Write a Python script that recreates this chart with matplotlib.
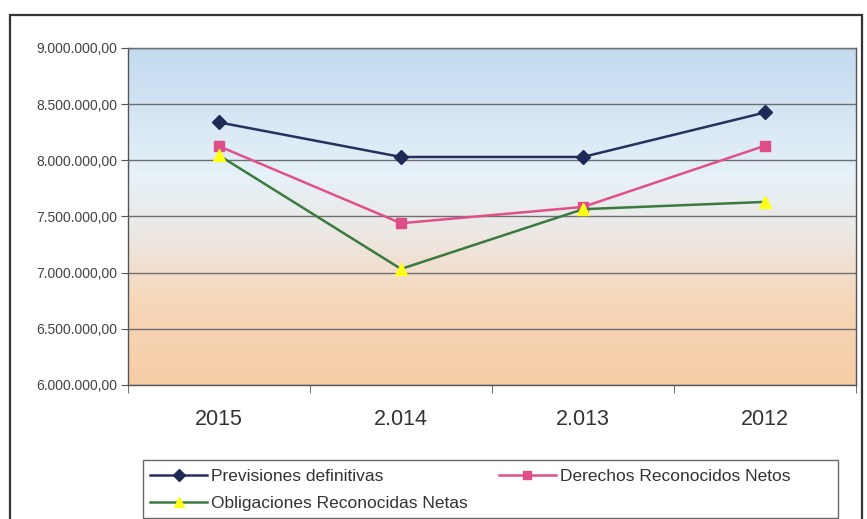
import numpy as np
import matplotlib
matplotlib.use('Agg')
import matplotlib.pyplot as plt
from matplotlib.colors import LinearSegmentedColormap
from matplotlib.patches import Rectangle
from matplotlib.ticker import FuncFormatter, MultipleLocator, FixedLocator

plt.rcParams['font.family'] = ['Liberation Sans', 'DejaVu Sans']

years = ['2015', '2.014', '2.013', '2012']
previsiones = [8338000, 8030000, 8030000, 8426000]
derechos = [8126000, 7440000, 7585000, 8130000]
obligaciones = [8044000, 7033000, 7565000, 7630000]


def es_format(v, pos):
    s = f'{v:,.2f}'
    return s.replace(',', 'X').replace('.', ',').replace('X', '.')


def main():
    fig = plt.figure(figsize=(8.67, 5.19), dpi=100)
    fig.patch.set_facecolor('white')
    W, H = 867, 519

    # outer chart frame (bottom is cut off in the scan)
    fig.patches.append(Rectangle((10 / W, -0.1), 852 / W, 1.1 - 15 / H,
                                 transform=fig.transFigure, fill=False,
                                 edgecolor='#333333', lw=1.6))

    ax = fig.add_axes([128 / W, 1 - 385 / H, 728 / W, 337 / H])

    # gradient background: blue at top, peach at bottom
    grad = LinearSegmentedColormap.from_list(
        'bg', [(0.0, '#f6cda6'), (0.25, '#f7d7ba'), (0.45, '#ece8e4'),
               (0.62, '#e6f1f8'), (1.0, '#c3daf0')])
    ax.imshow(np.linspace(0, 1, 256).reshape(-1, 1), cmap=grad, origin='lower',
              extent=(-0.5, 3.5, 6000000, 9000000), aspect='auto', zorder=0)

    x = np.arange(len(years))
    ax.plot(x, previsiones, color='#27305e', lw=1.8, marker='D', ms=7,
            mfc='#1e2a55', mec='#1e2a55', label='Previsiones definitivas', zorder=4)
    ax.plot(x, derechos, color='#e0508a', lw=1.8, marker='s', ms=7,
            mfc='#df4d88', mec='#df4d88', label='Derechos Reconocidos Netos', zorder=4)
    ax.plot(x, obligaciones, color='#3b7a3e', lw=1.8, marker='^', ms=8,
            mfc='#ffff1a', mec='#ffff1a', label='Obligaciones Reconocidas Netas', zorder=5)

    ax.set_xlim(-0.5, 3.5)
    ax.set_ylim(6000000, 9000000)
    ax.yaxis.set_major_locator(MultipleLocator(500000))
    ax.yaxis.set_major_formatter(FuncFormatter(es_format))
    ax.grid(axis='y', color='#6e6e6e', lw=1.0, zorder=1)
    ax.set_axisbelow(False)
    for s in ax.spines.values():
        s.set_color('#555555')
        s.set_linewidth(1.0)

    ax.set_xticks(x)
    ax.set_xticklabels(years, fontsize=15.5, color='#333333')
    ax.tick_params(axis='x', length=0, pad=17)
    ax.xaxis.set_minor_locator(FixedLocator([-0.5, 0.5, 1.5, 2.5, 3.5]))
    ax.tick_params(axis='x', which='minor', length=6, color='#555555')
    ax.tick_params(axis='y', labelsize=10, labelcolor='#444444', length=5,
                   color='#555555', pad=3)

    # legend box drawn separately, wider than its entries
    fig.patches.append(Rectangle((143 / W, 1 - 518 / H), 695 / W, 58 / H,
                                 transform=fig.transFigure, fill=False,
                                 edgecolor='#666666', lw=1.0))
    handles, labels = ax.get_legend_handles_labels()
    order = [0, 2, 1]
    leg = fig.legend([handles[i] for i in order], [labels[i] for i in order],
                     loc='upper left', bbox_to_anchor=(150 / W, 1 - 469 / H),
                     ncol=2, fontsize=12.5, frameon=False, handlelength=3.3,
                     handletextpad=0.2, borderpad=0, labelspacing=0.7,
                     columnspacing=1.8, borderaxespad=0, markerscale=0.85)
    for t in leg.get_texts():
        t.set_color('#333333')

    fig.savefig('out.png', dpi=100)


if __name__ == '__main__':
    main()
